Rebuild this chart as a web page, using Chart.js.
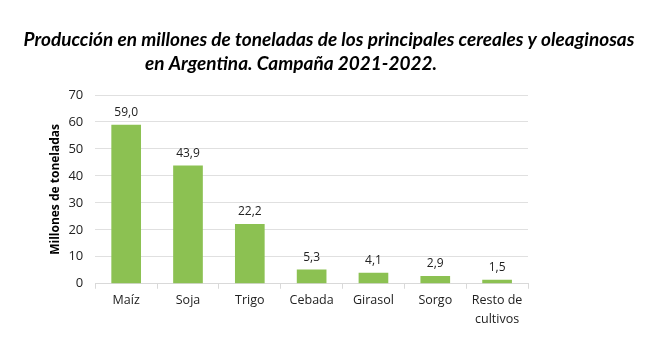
<!DOCTYPE html>
<html><head><meta charset="utf-8">
<script src="https://cdn.jsdelivr.net/npm/chart.js@4/dist/chart.umd.min.js"></script>
<style>html,body{margin:0;padding:0;background:#fff;}#wrap{width:658px;height:347px;}</style>
</head><body><div id="wrap"><canvas id="c" width="658" height="347"></canvas></div>
<script>
const categories = [["Maíz"], ["Soja"], ["Trigo"], ["Cebada"], ["Girasol"], ["Sorgo"], ["Resto de", "cultivos"]];
const values = [59.0, 43.9, 22.2, 5.3, 4.1, 2.9, 1.5];
const titleLines = ["Producción en millones de toneladas de los principales cereales y oleaginosas", "en Argentina. Campaña 2021-2022."];
const yAxisTitle = "Millones de toneladas";

const fmt = v => v.toFixed(1).replace('.', ',');

const titlePlugin = {
  id: 'customTitle',
  afterDraw(chart) {
    const ctx = chart.ctx;
    ctx.save();
    ctx.fillStyle = '#000';
    ctx.font = 'italic bold 19px Lato';
    ctx.textBaseline = 'middle';
    ctx.textAlign = 'center';
    ctx.fillText(titleLines[0], 329, 40);
    ctx.textAlign = 'left';
    ctx.fillText(titleLines[1], 145, 64);
    ctx.restore();
  }
};
const labelPlugin = {
  id: 'valueLabels',
  afterDatasetsDraw(chart) {
    const ctx = chart.ctx;
    const meta = chart.getDatasetMeta(0);
    ctx.save();
    ctx.fillStyle = '#222';
    ctx.font = '12px "Open Sans"';
    ctx.textAlign = 'center';
    ctx.textBaseline = 'bottom';
    meta.data.forEach((bar, i) => {
      ctx.fillText(fmt(values[i]), bar.x, bar.y - 6);
    });
    ctx.restore();
  }
};

new Chart(document.getElementById('c'), {
  type: 'bar',
  data: {
    labels: categories,
    datasets: [{ data: values, backgroundColor: '#8cc152', borderWidth: 0, barPercentage: 0.48, categoryPercentage: 1.0 }]
  },
  options: {
    responsive: false,
    animation: false,
    layout: { padding: { top: 95, left: 42, right: 130, bottom: 16 } },
    plugins: { legend: { display: false }, tooltip: { enabled: false }, title: { display: false } },
    scales: {
      x: {
        grid: { display: true, drawOnChartArea: false, offset: true, tickLength: 5, color: '#d9d9d9' },
        border: { display: true, color: '#d9d9d9' },
        ticks: { color: '#222', font: { size: 12.5, family: '"Open Sans"', lineHeight: 1.45 }, padding: 3, maxRotation: 0 }
      },
      y: {
        min: 0, max: 70,
        ticks: { stepSize: 10, color: '#222', font: { size: 13, family: '"Open Sans"' }, padding: 12 },
        grid: { color: '#e0e0e0', drawTicks: false },
        border: { display: false },
        title: { display: true, text: yAxisTitle, color: '#000', font: { size: 12, weight: 'bold', family: '"Open Sans"' }, padding: { top: 6, bottom: -6 } }
      }
    }
  },
  plugins: [titlePlugin, labelPlugin]
});
</script></body></html>
